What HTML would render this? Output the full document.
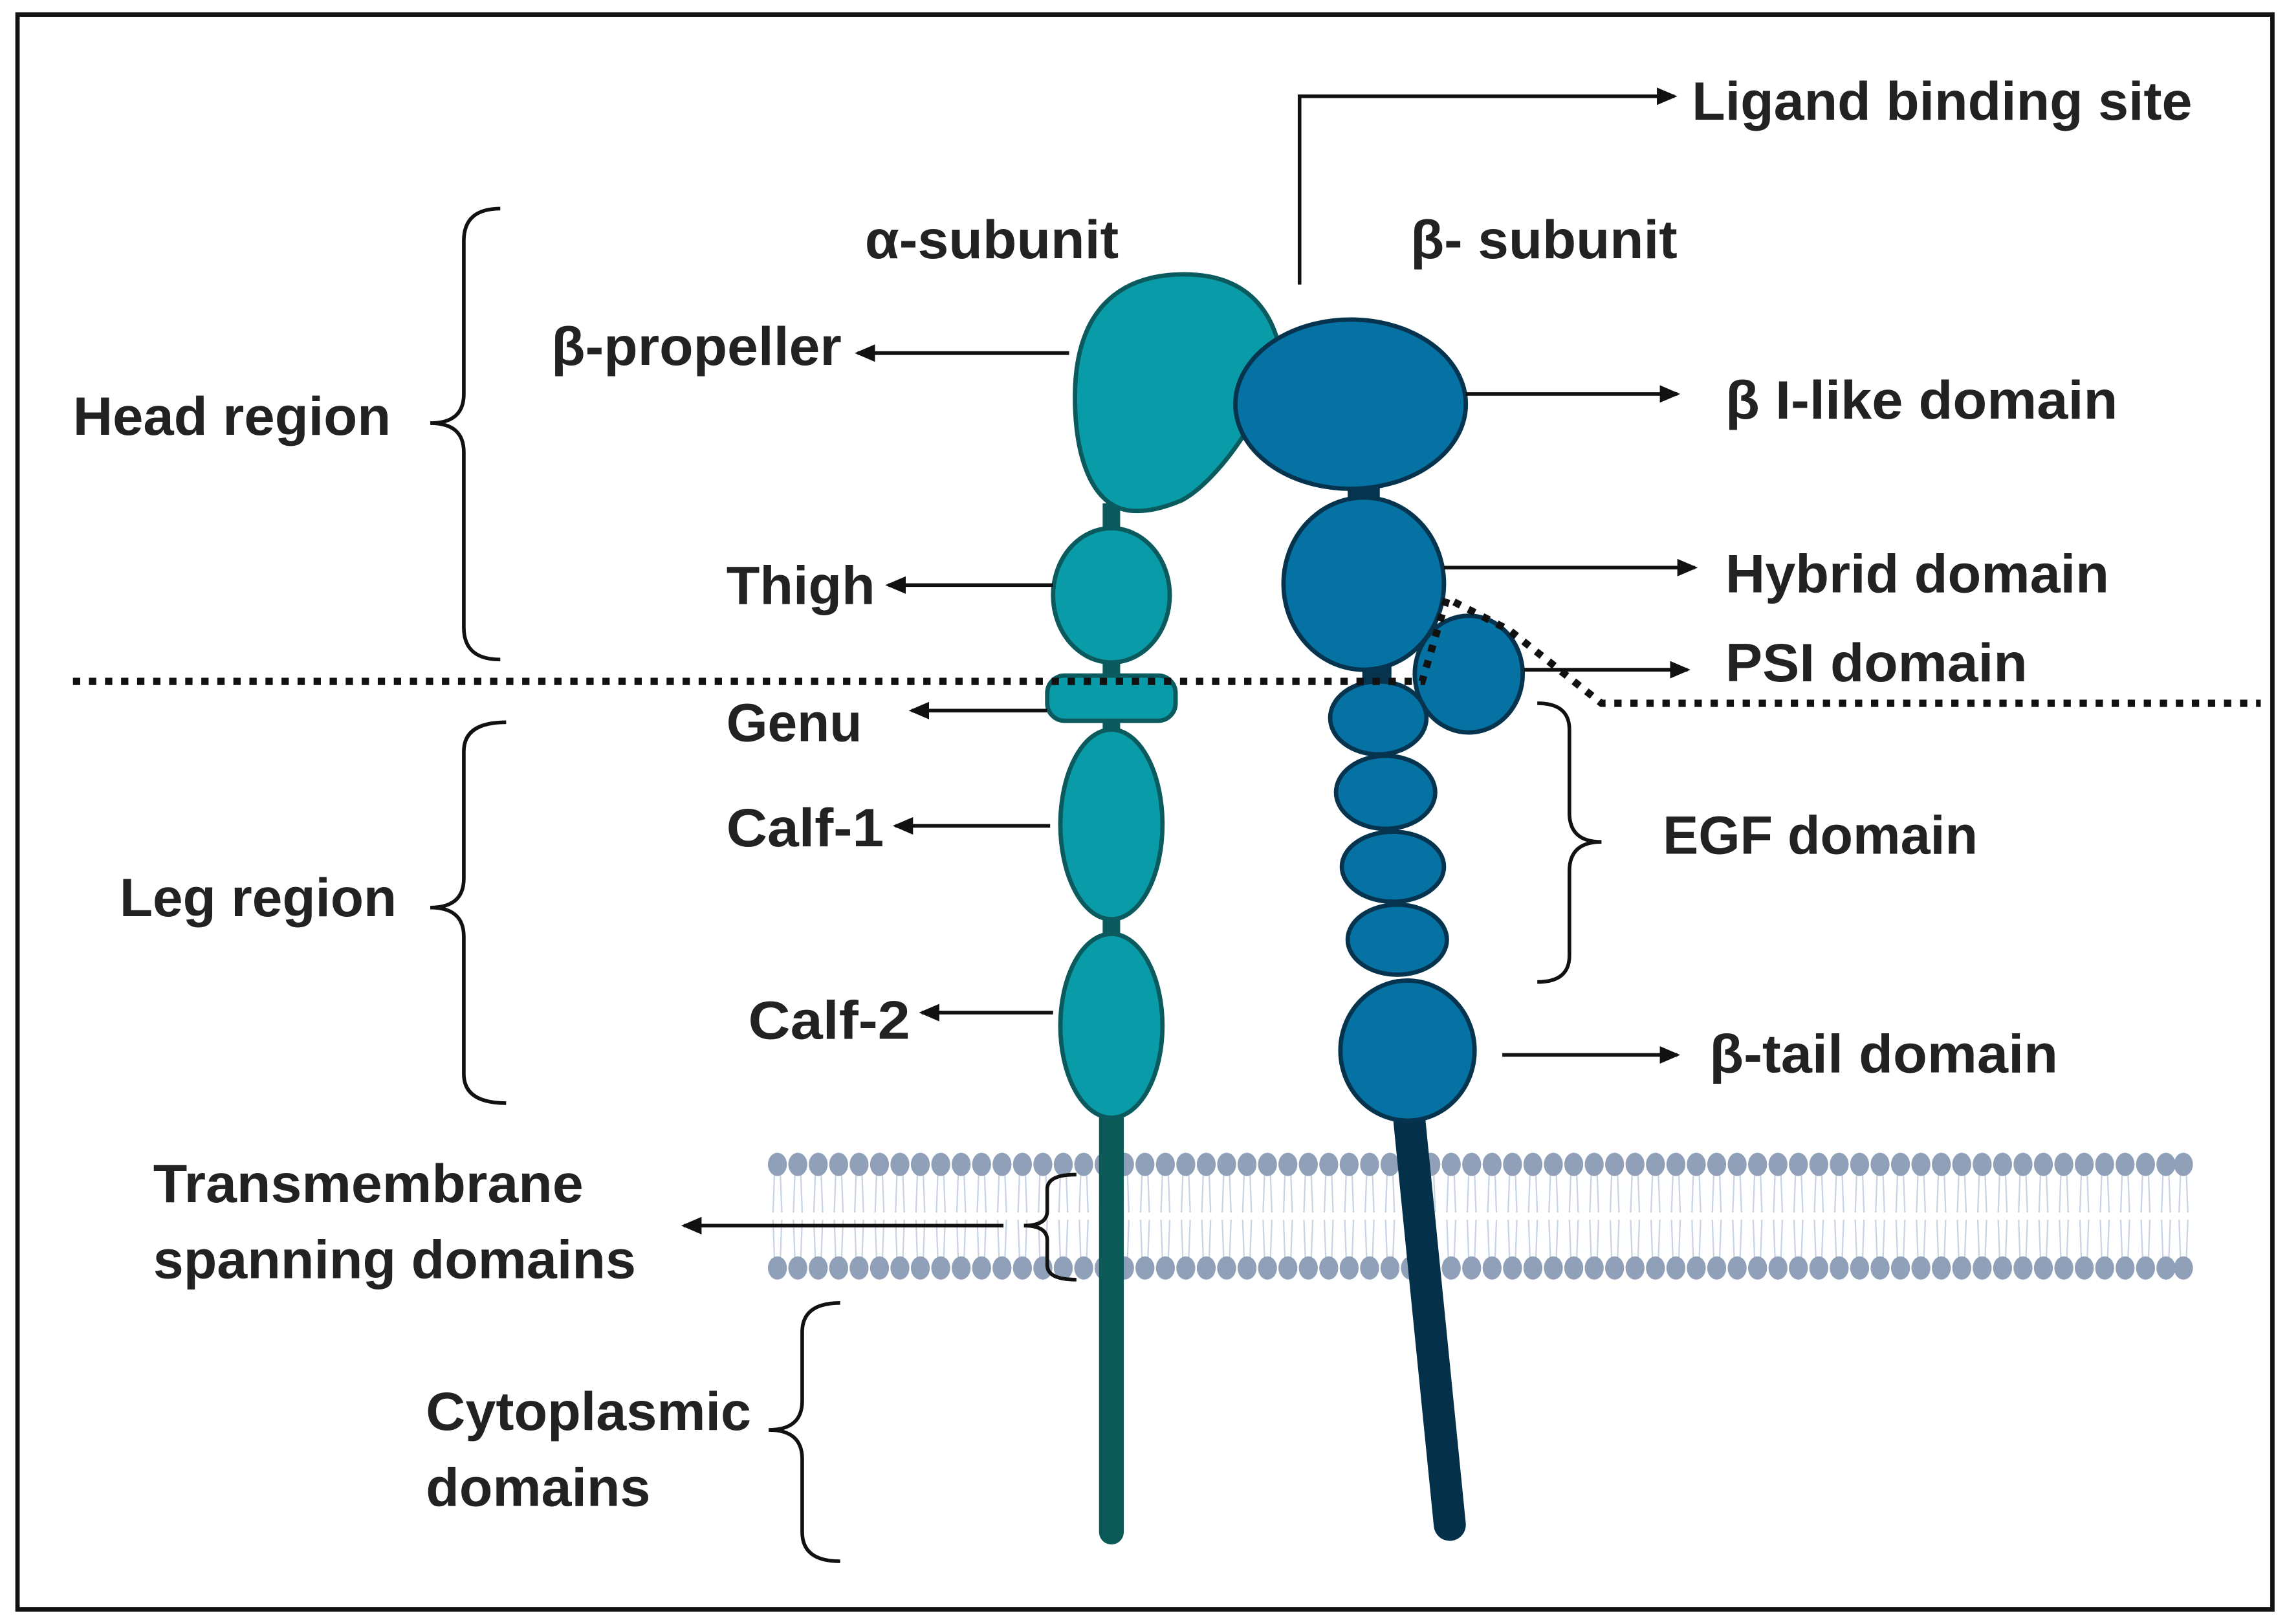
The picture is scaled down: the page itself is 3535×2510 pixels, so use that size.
<!DOCTYPE html>
<html><head><meta charset="utf-8"><style>
html,body{margin:0;padding:0;background:#fff;}
svg{display:block;}
text{font-family:"Liberation Sans",sans-serif;font-weight:bold;font-size:37px;fill:#222;}
</style></head><body>
<svg width="3535" height="2510" viewBox="0 0 1568 1113" preserveAspectRatio="none" xmlns="http://www.w3.org/2000/svg">
<defs>
<marker id="ah2" markerWidth="14" markerHeight="14" refX="12" refY="7" orient="auto" markerUnits="userSpaceOnUse" viewBox="0 0 14 14">
<path d="M0,1 L14,7 L0,13 Z" fill="#111"/></marker>
<g id="lip">
<line x1="-2" y1="6" x2="-3" y2="33" stroke="#c9d4e3" stroke-width="1"/>
<line x1="2" y1="6" x2="3" y2="33" stroke="#c9d4e3" stroke-width="1"/>
<line x1="-3" y1="38" x2="-2" y2="65" stroke="#c9d4e3" stroke-width="1"/>
<line x1="3" y1="38" x2="2" y2="65" stroke="#c9d4e3" stroke-width="1"/>
<ellipse cx="0" cy="0" rx="6.5" ry="8" fill="#8fa0b8"/>
<ellipse cx="0" cy="71" rx="6.5" ry="8" fill="#8fa0b8"/>
</g>
</defs>
<rect x="12" y="10" width="1546" height="1093" fill="#fff" stroke="#111" stroke-width="3"/>

<g>
<use href="#lip" x="533" y="798"/><use href="#lip" x="547" y="798"/><use href="#lip" x="561" y="798"/><use href="#lip" x="575" y="798"/><use href="#lip" x="589" y="798"/><use href="#lip" x="603" y="798"/><use href="#lip" x="617" y="798"/><use href="#lip" x="631" y="798"/><use href="#lip" x="645" y="798"/><use href="#lip" x="659" y="798"/><use href="#lip" x="673" y="798"/><use href="#lip" x="687" y="798"/><use href="#lip" x="701" y="798"/><use href="#lip" x="715" y="798"/><use href="#lip" x="729" y="798"/><use href="#lip" x="743" y="798"/><use href="#lip" x="757" y="798"/><use href="#lip" x="771" y="798"/><use href="#lip" x="785" y="798"/><use href="#lip" x="799" y="798"/><use href="#lip" x="813" y="798"/><use href="#lip" x="827" y="798"/><use href="#lip" x="841" y="798"/><use href="#lip" x="855" y="798"/><use href="#lip" x="869" y="798"/><use href="#lip" x="883" y="798"/><use href="#lip" x="897" y="798"/><use href="#lip" x="911" y="798"/><use href="#lip" x="925" y="798"/><use href="#lip" x="939" y="798"/><use href="#lip" x="953" y="798"/><use href="#lip" x="967" y="798"/><use href="#lip" x="981" y="798"/><use href="#lip" x="995" y="798"/><use href="#lip" x="1009" y="798"/><use href="#lip" x="1023" y="798"/><use href="#lip" x="1037" y="798"/><use href="#lip" x="1051" y="798"/><use href="#lip" x="1065" y="798"/><use href="#lip" x="1079" y="798"/><use href="#lip" x="1093" y="798"/><use href="#lip" x="1107" y="798"/><use href="#lip" x="1121" y="798"/><use href="#lip" x="1135" y="798"/><use href="#lip" x="1149" y="798"/><use href="#lip" x="1163" y="798"/><use href="#lip" x="1177" y="798"/><use href="#lip" x="1191" y="798"/><use href="#lip" x="1205" y="798"/><use href="#lip" x="1219" y="798"/><use href="#lip" x="1233" y="798"/><use href="#lip" x="1247" y="798"/><use href="#lip" x="1261" y="798"/><use href="#lip" x="1275" y="798"/><use href="#lip" x="1289" y="798"/><use href="#lip" x="1303" y="798"/><use href="#lip" x="1317" y="798"/><use href="#lip" x="1331" y="798"/><use href="#lip" x="1345" y="798"/><use href="#lip" x="1359" y="798"/><use href="#lip" x="1373" y="798"/><use href="#lip" x="1387" y="798"/><use href="#lip" x="1401" y="798"/><use href="#lip" x="1415" y="798"/><use href="#lip" x="1429" y="798"/><use href="#lip" x="1443" y="798"/><use href="#lip" x="1457" y="798"/><use href="#lip" x="1471" y="798"/><use href="#lip" x="1485" y="798"/><use href="#lip" x="1497" y="798"/>
</g>

<line x1="762" y1="755" x2="762" y2="1050" stroke="#0c5a57" stroke-width="17" stroke-linecap="round"/>
<line x1="965" y1="755" x2="994" y2="1045" stroke="#05304a" stroke-width="22" stroke-linecap="round"/>

<g fill="#0a9ba8" stroke="#0b5a5e" stroke-width="3">
<rect x="756" y="345" width="12" height="25" fill="#0b5a5e" stroke="none"/>
<rect x="756" y="450" width="12" height="20" fill="#0b5a5e" stroke="none"/>
<rect x="756" y="490" width="12" height="15" fill="#0b5a5e" stroke="none"/>
<rect x="756" y="622" width="12" height="20" fill="#0b5a5e" stroke="none"/>
<path d="M775,350 C748,347 737,312 737,272 C737,215 765,188 812,188 C852,188 872,210 878,242 C870,280 835,330 810,343 C798,348 787,351 775,350 Z"/>
<ellipse cx="762" cy="408" rx="40" ry="46"/>
<ellipse cx="762" cy="565" rx="35" ry="65"/>
<ellipse cx="762" cy="703" rx="35" ry="63"/>
<rect x="718" y="463" width="88" height="31" rx="12"/>
</g>

<g fill="#0572a3" stroke="#06344f" stroke-width="3">
<rect x="924" y="330" width="22" height="20" fill="#06344f" stroke="none"/>
<rect x="934" y="452" width="20" height="24" fill="#06344f" stroke="none"/>
<ellipse cx="926" cy="277" rx="79" ry="58"/>
<ellipse cx="935" cy="400" rx="55" ry="59"/>
<ellipse cx="1007" cy="462" rx="37" ry="40"/>
<ellipse cx="958" cy="644" rx="34" ry="24"/>
<ellipse cx="955" cy="594" rx="35" ry="24"/>
<ellipse cx="950" cy="543" rx="34" ry="25"/>
<ellipse cx="945" cy="492" rx="33" ry="25"/>
<ellipse cx="965" cy="720" rx="46" ry="48"/>
</g>

<path d="M50,467 L975,467 L992,410 L1035,432 L1098,482 L1550,482" fill="none" stroke="#111" stroke-width="5" stroke-dasharray="5,6"/>

<g stroke="#111" stroke-width="2.5" fill="none">
<path d="M891,195 L891,66 L1148,66" marker-end="url(#ah2)"/>
<line x1="733" y1="242" x2="588" y2="242" marker-end="url(#ah2)"/>
<line x1="1005" y1="270" x2="1150" y2="270" marker-end="url(#ah2)"/>
<line x1="722" y1="401" x2="609" y2="401" marker-end="url(#ah2)"/>
<line x1="990" y1="389" x2="1162" y2="389" marker-end="url(#ah2)"/>
<line x1="1045" y1="459" x2="1157" y2="459" marker-end="url(#ah2)"/>
<line x1="718" y1="487" x2="625" y2="487" marker-end="url(#ah2)"/>
<line x1="720" y1="566" x2="614" y2="566" marker-end="url(#ah2)"/>
<line x1="722" y1="694" x2="632" y2="694" marker-end="url(#ah2)"/>
<line x1="1030" y1="723" x2="1150" y2="723" marker-end="url(#ah2)"/>
<line x1="688" y1="840" x2="469" y2="840" marker-end="url(#ah2)"/>
</g>

<g stroke="#111" stroke-width="2.5" fill="none">
<path d="M343,143 Q318,143 318,165 L318,270 Q318,290 295,290 Q318,290 318,310 L318,430 Q318,452 343,452"/>
<path d="M347,495 Q318,495 318,515 L318,602 Q318,622 295,622 Q318,622 318,642 L318,736 Q318,756 347,756"/>
<path d="M1054,482 Q1076,482 1076,500 L1076,557 Q1076,577 1098,577 Q1076,577 1076,597 L1076,655 Q1076,673 1054,673"/>
<path d="M738,805 Q718,805 718,815 L718,830 Q718,840 702,840 Q718,840 718,850 L718,867 Q718,877 738,877"/>
<path d="M576,893 Q550,893 550,913 L550,960 Q550,980 527,980 Q550,980 550,1000 L550,1050 Q550,1070 576,1070"/>
</g>

<text x="50" y="298" textLength="218" lengthAdjust="spacingAndGlyphs">Head region</text>
<text x="593" y="177" textLength="174" lengthAdjust="spacingAndGlyphs">α-subunit</text>
<text x="967" y="177" textLength="183" lengthAdjust="spacingAndGlyphs">β- subunit</text>
<text x="1160" y="82" textLength="343" lengthAdjust="spacingAndGlyphs">Ligand binding site</text>
<text x="378" y="250" textLength="199" lengthAdjust="spacingAndGlyphs">β-propeller</text>
<text x="1183" y="287" textLength="269" lengthAdjust="spacingAndGlyphs">β I-like domain</text>
<text x="498" y="414" textLength="102" lengthAdjust="spacingAndGlyphs">Thigh</text>
<text x="1183" y="406" textLength="263" lengthAdjust="spacingAndGlyphs">Hybrid domain</text>
<text x="1183" y="467" textLength="207" lengthAdjust="spacingAndGlyphs">PSI domain</text>
<text x="498" y="508" textLength="93" lengthAdjust="spacingAndGlyphs">Genu</text>
<text x="498" y="580" textLength="108" lengthAdjust="spacingAndGlyphs">Calf-1</text>
<text x="1140" y="585" textLength="216" lengthAdjust="spacingAndGlyphs">EGF domain</text>
<text x="82" y="628" textLength="190" lengthAdjust="spacingAndGlyphs">Leg region</text>
<text x="513" y="712" textLength="111" lengthAdjust="spacingAndGlyphs">Calf-2</text>
<text x="1172" y="735" textLength="239" lengthAdjust="spacingAndGlyphs">β-tail domain</text>
<text x="105" y="824" textLength="295" lengthAdjust="spacingAndGlyphs">Transmembrane</text>
<text x="105" y="876" textLength="331" lengthAdjust="spacingAndGlyphs">spanning domains</text>
<text x="292" y="980" textLength="223" lengthAdjust="spacingAndGlyphs">Cytoplasmic</text>
<text x="292" y="1032" textLength="154" lengthAdjust="spacingAndGlyphs">domains</text>
</svg>
</body></html>
